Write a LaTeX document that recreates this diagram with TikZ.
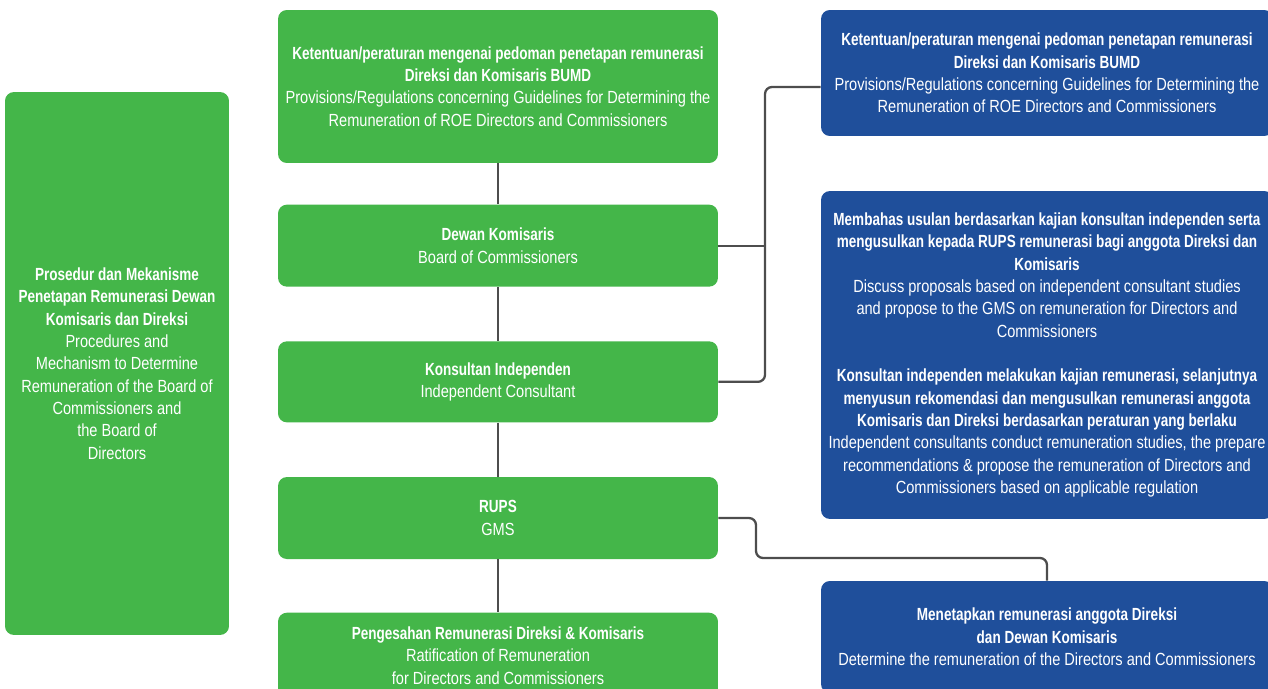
\documentclass[tikz,border=0pt]{standalone}
\usepackage{fontspec}
\setmainfont{Liberation Sans}[UprightFeatures={FakeStretch=0.83}, BoldFeatures={FakeStretch=0.77}]
\usetikzlibrary{positioning, calc}
\definecolor{leafgreen}{HTML}{44B649}
\definecolor{royalblue}{HTML}{1F4F9B}
\definecolor{wiregray}{HTML}{4D4D4D}
\tikzset{
    basic/.style={rectangle, rounded corners=5pt, align=center, text=white, inner sep=0pt,
        font=\fontsize{10pt}{12.7pt}\selectfont},
    stage/.style={basic, fill=leafgreen, minimum width=8.8cm},
    note/.style={basic, fill=royalblue, minimum width=9.04cm},
    link/.style={draw=wiregray, line width=1.3pt, rounded corners=4pt}
}

\begin{document}
\begin{tikzpicture}[x=0.02cm, y=-0.02cm]

    \useasboundingbox (0,0) rectangle (1268,689);
    \clip (0,0) rectangle (1268,689);

    % ============================================================
    % Left: summary box
    % ============================================================
    \node[basic, fill=leafgreen, minimum width=4.48cm, minimum height=10.86cm] (prosedur) at (117,363.5)
        {\textbf{Prosedur dan Mekanisme}\\\textbf{Penetapan Remunerasi Dewan}\\\textbf{Komisaris dan Direksi}\\
         Procedures and\\Mechanism to Determine\\Remuneration of the Board of\\Commissioners and\\the Board of\\Directors};

    % ============================================================
    % Middle: process steps (top to bottom)
    % ============================================================
    \node[stage, minimum height=3.06cm] (pedoman) at (498,86.5)
        {\textbf{Ketentuan/peraturan mengenai pedoman penetapan remunerasi}\\\textbf{Direksi dan Komisaris BUMD}\\
         Provisions/Regulations concerning Guidelines for Determining the\\Remuneration of ROE Directors and Commissioners};
    \node[stage, minimum height=1.64cm, below=0.82cm of pedoman] (dewan)
        {\textbf{Dewan Komisaris}\\Board of Commissioners};
    \node[stage, minimum height=1.62cm, below=1.08cm of dewan] (konsultan)
        {\textbf{Konsultan Independen}\\Independent Consultant};
    \node[stage, minimum height=1.64cm, below=1.08cm of konsultan] (rups)
        {\textbf{RUPS}\\GMS};
    \node[stage, minimum height=1.72cm, below=1.06cm of rups] (pengesahan)
        {\textbf{Pengesahan Remunerasi Direksi \& Komisaris}\\Ratification of Remuneration\\for Directors and Commissioners};

    % ============================================================
    % Right: descriptions
    % ============================================================
    \node[note, minimum height=2.52cm] (ketentuan) at (1047,73)
        {\textbf{Ketentuan/peraturan mengenai pedoman penetapan remunerasi}\\\textbf{Direksi dan Komisaris BUMD}\\
         Provisions/Regulations concerning Guidelines for Determining the\\Remuneration of ROE Directors and Commissioners};
    \node[note, minimum height=6.56cm] (membahas) at (1047,355)
        {\textbf{Membahas usulan berdasarkan kajian konsultan independen serta}\\
         \textbf{mengusulkan kepada RUPS remunerasi bagi anggota Direksi dan}\\\textbf{Komisaris}\\
         Discuss proposals based on independent consultant studies\\
         and propose to the GMS on remuneration for Directors and\\Commissioners\\[12.7pt]
         \textbf{Konsultan independen melakukan kajian remunerasi, selanjutnya}\\
         \textbf{menyusun rekomendasi dan mengusulkan remunerasi anggota}\\
         \textbf{Komisaris dan Direksi berdasarkan peraturan yang berlaku}\\
         Independent consultants conduct remuneration studies, the prepare\\
         recommendations \& propose the remuneration of Directors and\\
         Commissioners based on applicable regulation};
    \node[note, minimum height=2.24cm] (menetapkan) at (1047,637)
        {\textbf{Menetapkan remunerasi anggota Direksi}\\\textbf{dan Dewan Komisaris}\\
         Determine the remuneration of the Directors and Commissioners};

    % ============================================================
    % Connections
    % ============================================================
    \draw[link] (pedoman) -- (dewan);
    \draw[link] (dewan) -- (konsultan);
    \draw[link] (konsultan) -- (rups);
    \draw[link] (rups) -- (pengesahan);

    % bracket to the provisions note
    \coordinate (bus) at (765,87);
    \draw[link] (konsultan.east) -| (bus) -- (bus -| ketentuan.west);
    \draw[link] (dewan.east) -- (dewan.east -| bus);

    % GMS to decision note
    \coordinate (elbow) at (756,558);
    \draw[link] (rups.east) -| (elbow) -| (menetapkan.north);

\end{tikzpicture}
\end{document}
